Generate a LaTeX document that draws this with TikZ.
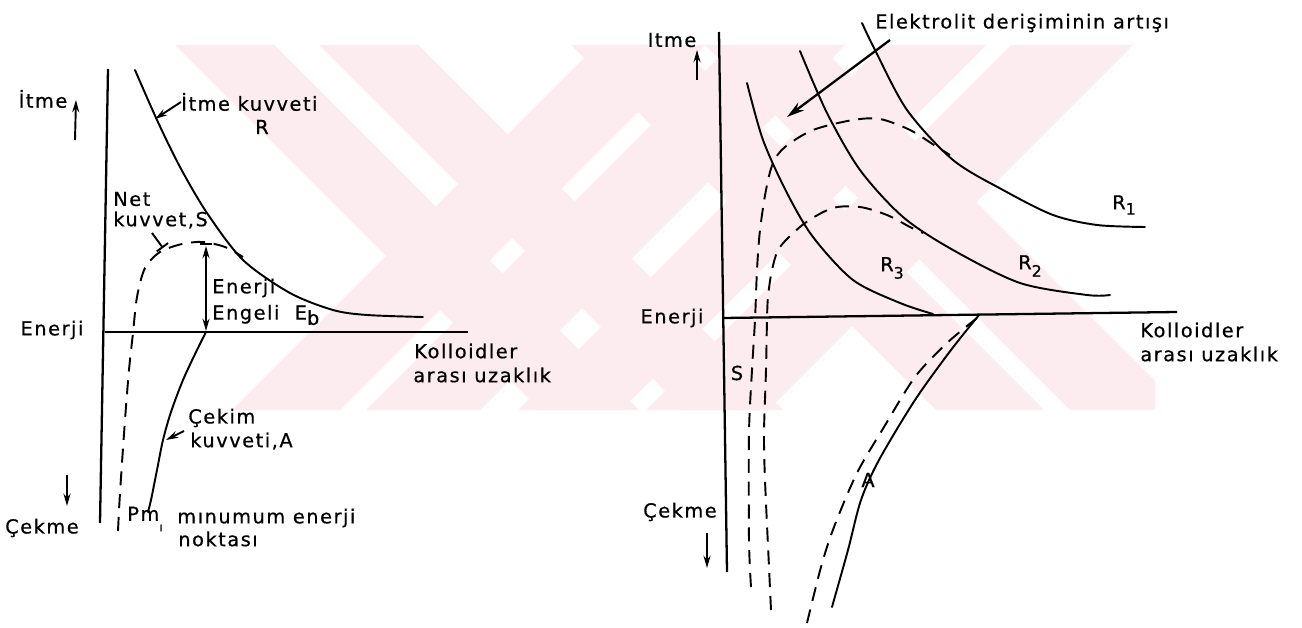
\documentclass[tikz,border=0pt]{standalone}
\usepackage{fontspec}
\setmainfont[LetterSpace=8,FakeBold=0.6]{DejaVu Sans}
\usetikzlibrary{arrows.meta}
\definecolor{wm}{RGB}{253,236,239}
\begin{document}
\begin{tikzpicture}[x=0.02cm,y=-0.02cm,
  curve/.style={line width=1.1pt, line cap=round},
  axis/.style={line width=1.3pt},
  dsh/.style={line width=1.1pt, dash pattern=on 8pt off 5pt},
  arr/.style={line width=1.1pt, -{Stealth[length=7pt,width=4pt]}},
  bigarr/.style={line width=1.3pt, -{Stealth[length=10pt,width=5.5pt]}},
  lab/.style={font=\fontsize{11}{13}\selectfont, inner sep=0pt},
  labw/.style={lab, anchor=west},
]
\useasboundingbox (0,0) rectangle (1302,628);
\fill[white] (0,0) rectangle (1302,628);
% ---------- watermark ----------
\begin{scope}
\clip (150,45) rectangle (1155,410);
% pair A (\)
\fill[wm] (175,45) -- (274,45) -- (639,410) -- (540,410) -- cycle;
\fill[wm] (319,45) -- (418,45) -- (783,410) -- (684,410) -- cycle;
% pair B (/)
\fill[wm] (597,45) -- (705,45) -- (340,410) -- (232,410) -- cycle;
\fill[wm] (731,45) -- (845,45) -- (480,410) -- (366,410) -- cycle;
% pair C (\)
\fill[wm] (571,45) -- (679,45) -- (1044,410) -- (936,410) -- cycle;
\fill[wm] (705,45) -- (819,45) -- (1184,410) -- (1070,410) -- cycle;
% pair D (/)
\fill[wm] (883,45) -- (986,45) -- (621,410) -- (518,410) -- cycle;
\fill[wm] (1011,45) -- (1133,45) -- (768,410) -- (646,410) -- cycle;
\end{scope}
% ---------- left diagram ----------
\coordinate (LVt) at (108,69);
\coordinate (LVb) at (100,523);
\coordinate (LHl) at (105,332);
\coordinate (LHr) at (468,332);
\draw[axis] (LVt) -- (LVb);
\draw[axis] (LHl) -- (LHr);
\draw[curve] plot[smooth] coordinates {(135,70) (157,120) (180,167) (207,213) (243,260) (290,293) (333,310) (367,315) (423,317)};
\draw[dsh] plot[smooth] coordinates {(118,531) (120,493) (125,420) (129,370) (133,333) (137,297) (145,268) (160,252) (182,244) (203,242) (225,247) (243,257)};
\draw[curve] plot[smooth] coordinates {(206,332) (197,350) (183,380) (171,412) (163,440) (157,470) (151,500) (148,512)};

\node[lab] (itmeL) at (43,99) {İtme};
\coordinate (uaL1) at (75,140); \coordinate (uaL2) at (76,100);
\draw[arr] (uaL1) -- (uaL2);
\node[lab] (enerjiL) at (52,330) {Enerji};
\coordinate (daL1) at (67,475); \coordinate (daL2) at (67,506);
\draw[arr] (daL1) -- (daL2);
\node[lab] (cekmeL) at (42,528) {Çekme};

\node[labw] (itmeK) at (181,102) {İtme kuvveti};
\node[lab] (Rl) at (262,127) {R};
\coordinate (itmeKp) at (155,119);
\draw[arr] (itmeK.west) -- (itmeKp);

\node[labw] (net1) at (113,199) {Net};
\node[labw] (net2) at (113,220) {kuvvet,S};
\coordinate (netp) at (163,248);
\draw[line width=1.1pt, -{Bar[width=8pt]}] (152,233) -- (netp);

\coordinate (ebT) at (206,246);
\coordinate (ebB) at (206,331);
\draw[line width=1.1pt, {Stealth[length=7pt,width=4pt]}-{Stealth[length=7pt,width=4pt]}] (ebT) -- (ebB);
\draw[line width=1.1pt] (200,244) -- (212,244);
\node[labw] (eb1) at (212,288) {Enerji};
\node[labw] (eb2) at (212,315) {Engeli\ \ E\raisebox{-0.5ex}{b}};

\node[labw] (cek1) at (188,418) {Çekim};
\node[labw] (cek2) at (190,441) {kuvveti,A};
\coordinate (cekp) at (166,440);
\draw[arr] (184,431) -- (cekp);

\node[labw] (pm) at (127,519) {Pm\raisebox{-1ex}{\scriptsize ı}};
\node[labw] (min1) at (177,518) {mınumum enerji};
\node[labw] (min2) at (178,539) {noktası};

\node[labw] (kolL1) at (414,351) {Kolloidler};
\node[labw] (kolL2) at (413,375) {arası uzaklık};

% ---------- right diagram ----------
\coordinate (RVt) at (719,32);
\coordinate (RVb) at (727,572);
\coordinate (RHl) at (723,318);
\coordinate (RHr) at (1177,312);
\draw[axis] (RVt) -- (RVb);
\draw[axis] (RHl) -- (RHr);

\draw[curve] plot[smooth] coordinates {(862,23) (875,50) (907,110) (953,160) (1003,190) (1053,215) (1097,225) (1145,227)};
\draw[curve] plot[smooth] coordinates {(800,51) (827,113) (860,170) (903,217) (953,250) (1020,283) (1087,295) (1110,295)};
\draw[curve] plot[smooth] coordinates {(747,83) (763,140) (787,193) (813,237) (853,280) (900,303) (933,314)};

\draw[dsh] plot[smooth] coordinates {(751,587) (749,540) (749,433) (752,370) (755,320) (757,270) (760,230) (766,190) (773,163) (785,147) (813,130) (853,120) (880,119) (910,130) (937,147) (950,155)};
\draw[dsh] plot[smooth] coordinates {(771,610) (769,567) (765,480) (764,433) (766,370) (767,320) (768,297) (772,270) (780,247) (805,223) (833,208) (860,207) (887,215) (910,227) (923,233)};

\draw[curve] plot[smooth] coordinates {(979,315) (951,350) (915,400) (879,460) (861,500) (848,550) (832,607)};
\draw[dsh] plot[smooth] coordinates {(977,318) (947,343) (915,377) (884,427) (857,473) (834,527) (821,567) (807,623)};

\node[lab] (itmeR) at (672,40) {Itme};
\coordinate (uaR1) at (697,80); \coordinate (uaR2) at (697,50);
\draw[arr] (uaR1) -- (uaR2);
\node[lab] (enerjiR) at (672,318) {Enerji};
\node[lab] (cekmeR) at (680,512) {Çekme};
\coordinate (daR1) at (707,533); \coordinate (daR2) at (707,568);
\draw[arr] (daR1) -- (daR2);
\node[lab] (SR) at (737,373) {S};

\node[labw] (elek) at (875,23) {Elektrolit derişiminin artışı};
\coordinate (elekS) at (890,40);
\coordinate (elekE) at (787,117);
\draw[bigarr] (elekS) -- (elekE);

\node[lab] (R1) at (1124,205) {R\raisebox{-0.5ex}{\small 1}};
\node[lab] (R2) at (1030,266) {R\raisebox{-0.7ex}{\small 2}};
\node[lab] (R3) at (892,268) {R\raisebox{-0.7ex}{\small 3}};
\node[lab] (AR) at (868,480) {A};

\node[labw] (kolR1) at (1140,330) {Kolloidler};
\node[labw] (kolR2) at (1140,354) {arası uzaklık};
\end{tikzpicture}
\end{document}
